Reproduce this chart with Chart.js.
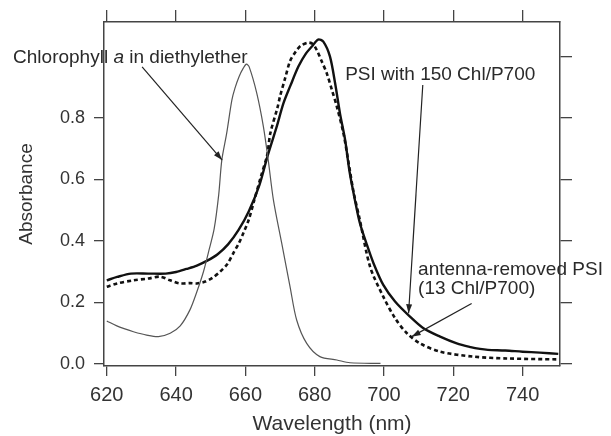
<!DOCTYPE html>
<html><head><meta charset="utf-8">
<script src="https://cdn.jsdelivr.net/npm/chart.js@4"></script>
<style>html,body{margin:0;padding:0;background:#fff}</style>
</head><body>
<canvas id="c" width="611" height="436"></canvas>
<script>
// ---- data ----
const chlWavelength = [620,622.9,625,627.7,631.5,634.9,638.3,641.2,644,646,647.9,649.5,651,652.3,653.2,654.6,656.1,657,658.2,659.4,660.3,661.1,663.3,665.2,666.6,668.1,670.5,672.9,674.8,677.7,681.5,686.4,690.2,699];
const chlAbsorbance = [0.14,0.124,0.115,0.105,0.094,0.089,0.10,0.124,0.176,0.235,0.30,0.37,0.44,0.55,0.663,0.75,0.858,0.897,0.935,0.962,0.975,0.966,0.88,0.772,0.663,0.533,0.392,0.251,0.143,0.067,0.024,0.013,0.004,0.002];

const psiWavelength = [620,623,627,632,637,640,643,646,649,652,655,658,661,664,666.5,669,671,673,675.3,677.5,679.4,681,682.5,684.4,685.9,687.3,688.8,690,691.5,693,695,697,699.8,703.2,707.5,711.4,716.2,721,725,727.7,730,735,740,745,750.3];
const psiAbsorbance = [0.272,0.283,0.294,0.294,0.294,0.299,0.309,0.320,0.336,0.357,0.389,0.435,0.497,0.580,0.680,0.770,0.848,0.905,0.967,1.010,1.035,1.055,1.048,1.000,0.913,0.815,0.728,0.63,0.54,0.46,0.39,0.327,0.257,0.203,0.154,0.116,0.089,0.067,0.055,0.049,0.046,0.044,0.040,0.037,0.033];

const antWavelength = [620,623,627.7,632,635.4,638.3,641,644,646,648.4,650.5,652.7,654.8,656.5,658,659.4,661,662.6,664.5,666.3,667.2,669.3,670,671.5,672.9,674.5,676,678.2,679.5,680.6,682,683.5,685,686.4,688.3,690,691.2,693,696,699.8,703.2,706.6,710.4,716.2,725.8,735.4,750.3];
const antAbsorbance = [0.251,0.262,0.272,0.278,0.284,0.272,0.262,0.263,0.262,0.268,0.28,0.30,0.325,0.36,0.39,0.425,0.47,0.534,0.61,0.68,0.75,0.835,0.87,0.93,0.985,1.015,1.035,1.045,1.040,1.021,0.985,0.945,0.89,0.837,0.75,0.64,0.56,0.47,0.316,0.219,0.149,0.100,0.067,0.040,0.024,0.018,0.015];

const xTickValues = [620,640,660,680,700,720,740];
const yTickValues = [0.0,0.2,0.4,0.6,0.8];
const yRightTickValues = [0.0,0.2,0.4,0.6,0.8,1.0];

// annotation anchors in data units
const labelChl = {x: 592.96, y: 0.979, parts: [['Chlorophyll ', false], ['a', true], [' in diethylether', false]]};
const labelPsi = {x: 688.8, y: 0.924, parts: [['PSI with 150 Chl/P700', false]]};
const labelAnt1 = {x: 709.84, y: 0.288, parts: [['antenna-removed PSI', false]]};
const labelAnt2 = {x: 709.84, y: 0.229, parts: [['(13 Chl/P700)', false]]};
const arrowChl = {from: [630.2, 0.966], to: [653.3, 0.663]};
const arrowPsi = {from: [711.2, 0.907], to: [707.1, 0.165]};
const arrowAnt = {from: [725.3, 0.197], to: [708.0, 0.089]};

const FONT = "'Liberation Sans', Arial, Helvetica, sans-serif";
const zip = (xs, ys) => xs.map((x, i) => ({x, y: ys[i]}));

const annotationPlugin = {
  id: 'anno',
  afterDatasetsDraw(chart) {
    const {ctx, scales: {x, y}} = chart;
    ctx.save();
    ctx.fillStyle = '#2a2a2a';
    ctx.textBaseline = 'alphabetic';
    [labelChl, labelPsi, labelAnt1, labelAnt2].forEach(l => {
      let px = x.getPixelForValue(l.x);
      const py = y.getPixelForValue(l.y);
      l.parts.forEach(([t, it]) => {
        ctx.font = (it ? 'italic ' : '') + '19px ' + FONT;
        ctx.fillText(t, px, py);
        px += ctx.measureText(t).width;
      });
    });
    ctx.strokeStyle = '#222';
    ctx.lineWidth = 1.2;
    [arrowChl, arrowPsi, arrowAnt].forEach(a => {
      const x1 = x.getPixelForValue(a.from[0]), y1 = y.getPixelForValue(a.from[1]);
      const x2 = x.getPixelForValue(a.to[0]), y2 = y.getPixelForValue(a.to[1]);
      const ang = Math.atan2(y2 - y1, x2 - x1);
      ctx.beginPath(); ctx.moveTo(x1, y1); ctx.lineTo(x2, y2); ctx.stroke();
      const L = 9, W = 3;
      ctx.beginPath();
      ctx.moveTo(x2, y2);
      ctx.lineTo(x2 - L*Math.cos(ang) + W*Math.sin(ang), y2 - L*Math.sin(ang) - W*Math.cos(ang));
      ctx.lineTo(x2 - L*Math.cos(ang) - W*Math.sin(ang), y2 - L*Math.sin(ang) + W*Math.cos(ang));
      ctx.closePath(); ctx.fillStyle = '#222'; ctx.fill();
    });
    ctx.restore();
  }
};

const axisColor = '#444';
const setTicks = vals => s => { s.ticks = vals.map(v => ({value: v})); };

new Chart(document.getElementById('c'), {
  type: 'line',
  data: {
    datasets: [
      {label: 'Chlorophyll a in diethylether', data: zip(chlWavelength, chlAbsorbance), borderColor: '#555', borderWidth: 1.2, pointRadius: 0, tension: 0.3, fill: false},
      {label: 'PSI with 150 Chl/P700', data: zip(psiWavelength, psiAbsorbance), borderColor: '#111', borderWidth: 2.4, pointRadius: 0, tension: 0.3, fill: false},
      {label: 'antenna-removed PSI (13 Chl/P700)', data: zip(antWavelength, antAbsorbance), borderColor: '#111', borderWidth: 2.6, borderDash: [4, 3], pointRadius: 0, tension: 0.3, fill: false}
    ]
  },
  options: {
    responsive: false, animation: false, devicePixelRatio: 1,
    layout: {padding: 0},
    plugins: {legend: {display: false}, tooltip: {enabled: false}},
    scales: {
      x: {type: 'linear', position: 'bottom', min: 619.2, max: 750.8,
        afterBuildTicks: setTicks(xTickValues),
        afterFit(s) { s.height = 70; },
        ticks: {font: {family: FONT, size: 20}, color: '#333', padding: 7, maxRotation: 0},
        grid: {drawOnChartArea: false, drawTicks: true, tickLength: 10, color: axisColor, lineWidth: 1.3},
        border: {color: axisColor, width: 1.5},
        title: {display: true, text: 'Wavelength (nm)', color: '#333', font: {family: FONT, size: 21, lineHeight: 1}, padding: {top: 0, bottom: 1}}
      },
      x2: {type: 'linear', position: 'top', min: 619.2, max: 750.8,
        afterBuildTicks: setTicks(xTickValues),
        afterFit(s) { s.height = 22; },
        ticks: {display: false},
        grid: {drawOnChartArea: false, drawTicks: true, tickLength: 12, color: axisColor, lineWidth: 1.3},
        border: {color: axisColor, width: 1.5}
      },
      y: {type: 'linear', position: 'left', min: -0.0065, max: 1.112,
        afterBuildTicks: setTicks(yTickValues),
        afterFit(s) { s.width = 104; },
        ticks: {font: {family: FONT, size: 18}, color: '#333', padding: 9, callback: v => v.toFixed(1)},
        grid: {drawOnChartArea: false, drawTicks: true, tickLength: 10, color: axisColor, lineWidth: 1.3},
        border: {color: axisColor, width: 1.5},
        title: {display: true, text: 'Absorbance', color: '#333', font: {family: FONT, size: 19}, padding: {top: 15, bottom: 0}}
      },
      y2: {type: 'linear', position: 'right', min: -0.0065, max: 1.112,
        afterBuildTicks: setTicks(yRightTickValues),
        afterFit(s) { s.width = 51; },
        ticks: {display: false},
        grid: {drawOnChartArea: false, drawTicks: true, tickLength: 12, color: axisColor, lineWidth: 1.3},
        border: {color: axisColor, width: 1.5}
      }
    }
  },
  plugins: [annotationPlugin]
});
</script>
</body></html>
